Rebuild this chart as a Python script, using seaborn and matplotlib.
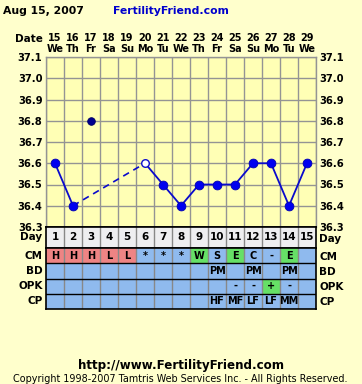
import numpy as np
import pandas as pd
import matplotlib
matplotlib.use("Agg")
import matplotlib.pyplot as plt
import seaborn as sns
from matplotlib.colors import ListedColormap

# ---------------- data ----------------
title_date = "Aug 15, 2007"
site_name = "FertilityFriend.com"
footer_url = "http://www.FertilityFriend.com"
footer_copy = "Copyright 1998-2007 Tamtris Web Services Inc. - All Rights Reserved."

dates = [15, 16, 17, 18, 19, 20, 21, 22, 23, 24, 25, 26, 27, 28, 29]
weekdays = ["We", "Th", "Fr", "Sa", "Su", "Mo", "Tu", "We", "Th", "Fr",
            "Sa", "Su", "Mo", "Tu", "We"]
cycle_days = list(range(1, 16))
temps = [36.6, 36.4, 36.8, np.nan, np.nan, 36.6, 36.5, 36.4, 36.5, 36.5,
         36.5, 36.6, 36.6, 36.4, 36.6]
discarded_days = [3]
open_days = [6]
solid_runs = [[1, 2], [6, 7, 8, 9, 10, 11, 12, 13, 14, 15]]
dashed_runs = [[2, 6]]
y_ticks = [36.3, 36.4, 36.5, 36.6, 36.7, 36.8, 36.9, 37.0, 37.1]

row_names = ["CM", "BD", "OPK", "CP"]
cm_text = ["H", "H", "H", "L", "L", "*", "*", "*", "W", "S", "E", "C", "-", "E", ""]
cm_kind = ["r", "r", "r", "r", "r", "b", "b", "b", "g", "b", "g", "b", "b", "g", "b"]
bd_text = ["", "", "", "", "", "", "", "", "", "PM", "", "PM", "", "PM", ""]
opk_text = ["", "", "", "", "", "", "", "", "", "", "-", "-", "+", "-", ""]
opk_kind = ["b"] * 12 + ["g", "b", "b"]
cp_text = ["", "", "", "", "", "", "", "", "", "HF", "MF", "LF", "LF", "MM", ""]

# ---------------- style ----------------
PAGE = "#FFFFCC"
PLOT = "#FFFFB5"
GRID = "#949494"
BLUE_CELL = "#8FBAEE"
RED_CELL = "#EE8484"
GREEN_CELL = "#66E066"
DAY_CELL = "#EEEEF0"
plt.rcParams["font.family"] = ["DejaVu Sans"]
plt.rcParams["font.weight"] = "bold"

W, H = 362, 384
fig = plt.figure(figsize=(W / 100, H / 100), dpi=100, facecolor=PAGE)

def px_axes(x0, y0, x1, y1):
    return fig.add_axes([x0 / W, 1 - y1 / H, (x1 - x0) / W, (y1 - y0) / H])

L, R = 46, 316
ax = px_axes(L, 57, R, 227)
ax.set_facecolor(PLOT)

df = pd.DataFrame({"day": cycle_days, "temp": temps})

# grid
ax.set_xlim(0.5, 15.5)
ax.set_ylim(36.3, 37.1)
ax.set_xticks(cycle_days)
ax.set_xticks(np.arange(0.5, 15.6, 1), minor=True)
ax.set_yticks(y_ticks)
ax.set_yticklabels([f"{v:.1f}" for v in y_ticks])
ax.grid(which="minor", axis="x", color=GRID, lw=1)
ax.grid(which="major", axis="y", color=GRID, lw=1)
ax.grid(which="major", axis="x", visible=False)
ax.set_axisbelow(True)
ax.xaxis.tick_top()
ax.set_xticklabels([f"{d}\n{w}" for d, w in zip(dates, weekdays)],
                   linespacing=1.15)
ax.tick_params(axis="x", which="both", length=0, pad=2, labelsize=7)
ax.tick_params(axis="y", which="both", length=0, labelsize=7.2,
               labelleft=True, labelright=True, pad=2.5)
for s in ["left", "right", "top"]:
    ax.spines[s].set_color(GRID)
    ax.spines[s].set_linewidth(1)
ax.spines["bottom"].set_color("black")
ax.spines["bottom"].set_linewidth(1.2)

LINE = "#0A0ACC"
for run in solid_runs:
    sub = df[df.day.isin(run)]
    sns.lineplot(data=sub, x="day", y="temp", ax=ax, color=LINE, lw=1.3,
                 estimator=None, sort=True)
for run in dashed_runs:
    sub = df[df.day.isin(run)]
    sns.lineplot(data=sub, x="day", y="temp", ax=ax, color=LINE, lw=1.2,
                 estimator=None, sort=True, linestyle=(0, (4, 3)))

normal = df[~df.day.isin(discarded_days + open_days)].dropna()
sns.scatterplot(data=normal, x="day", y="temp", ax=ax, color="#0000F0",
                s=40, edgecolor="#0000B0", linewidth=0.6, zorder=5)
sns.scatterplot(data=df[df.day.isin(discarded_days)], x="day", y="temp",
                ax=ax, color="#000090", s=30, edgecolor="#000060",
                linewidth=0.6, zorder=5)
sns.scatterplot(data=df[df.day.isin(open_days)], x="day", y="temp", ax=ax,
                color="white", s=30, edgecolor="#1010CC", linewidth=1.0,
                zorder=6)
ax.set_xlabel("")
ax.set_ylabel("")

# ---------------- day row ----------------
axd = px_axes(L, 227, R, 248)
day_vals = np.full((1, 15), 0)
sns.heatmap(day_vals, ax=axd, cmap=ListedColormap([DAY_CELL]), cbar=False,
            annot=np.array([[str(d) for d in cycle_days]]), fmt="",
            annot_kws={"color": "black", "fontsize": 7.5, "fontweight": "bold"},
            xticklabels=False, yticklabels=["Day"])
axd.tick_params(axis="y", length=0, labelsize=7.5, labelleft=True,
                labelright=True, pad=2.5)

# ---------------- observation table ----------------
axt = px_axes(L, 248, R, 309)
kind_map = {"b": 0, "r": 1, "g": 2}
codes = np.array([
    [kind_map[k] for k in cm_kind],
    [0] * 15,
    [kind_map[k] for k in opk_kind],
    [0] * 15,
])
texts = np.array([cm_text, bd_text, opk_text, cp_text])
sns.heatmap(codes, ax=axt, cmap=ListedColormap([BLUE_CELL, RED_CELL, GREEN_CELL]),
            vmin=-0.5, vmax=2.5, cbar=False, annot=texts, fmt="",
            annot_kws={"color": "black", "fontsize": 7, "fontweight": "bold"},
            xticklabels=False, yticklabels=row_names)
axt.tick_params(axis="y", length=0, labelsize=7.5, labelleft=True,
                labelright=True, pad=2.5)

for a, nrows in [(axd, 1), (axt, 4)]:
    for x in range(1, 15):
        a.axvline(x, color="#888888", lw=1)
    for y in range(1, nrows):
        a.axhline(y, color="black", lw=1)
    for s in a.spines.values():
        s.set_visible(True)
        s.set_color("black")
        s.set_linewidth(1.2)
    for lab in a.get_yticklabels():
        lab.set_rotation(0)

# ---------------- texts ----------------
fig.text(3 / W, 1 - 11 / H, title_date, fontsize=7.8, fontweight="bold",
         color="black", va="center", ha="left")
fig.text(113 / W, 1 - 11 / H, site_name, fontsize=7.8, fontweight="bold",
         color="#0000CC", va="center", ha="left")
fig.text(43 / W, 1 - 39 / H, "Date", fontsize=7.5, fontweight="bold",
         color="black", va="center", ha="right")
fig.text(181 / W, 1 - 365 / H, footer_url, fontsize=8.6, fontweight="bold",
         color="black", va="center", ha="center")
fig.text(180 / W, 1 - 379 / H, footer_copy, fontsize=6.9, fontweight="normal",
         color="black", va="center", ha="center")

fig.savefig("out.png", dpi=100, facecolor=PAGE)
